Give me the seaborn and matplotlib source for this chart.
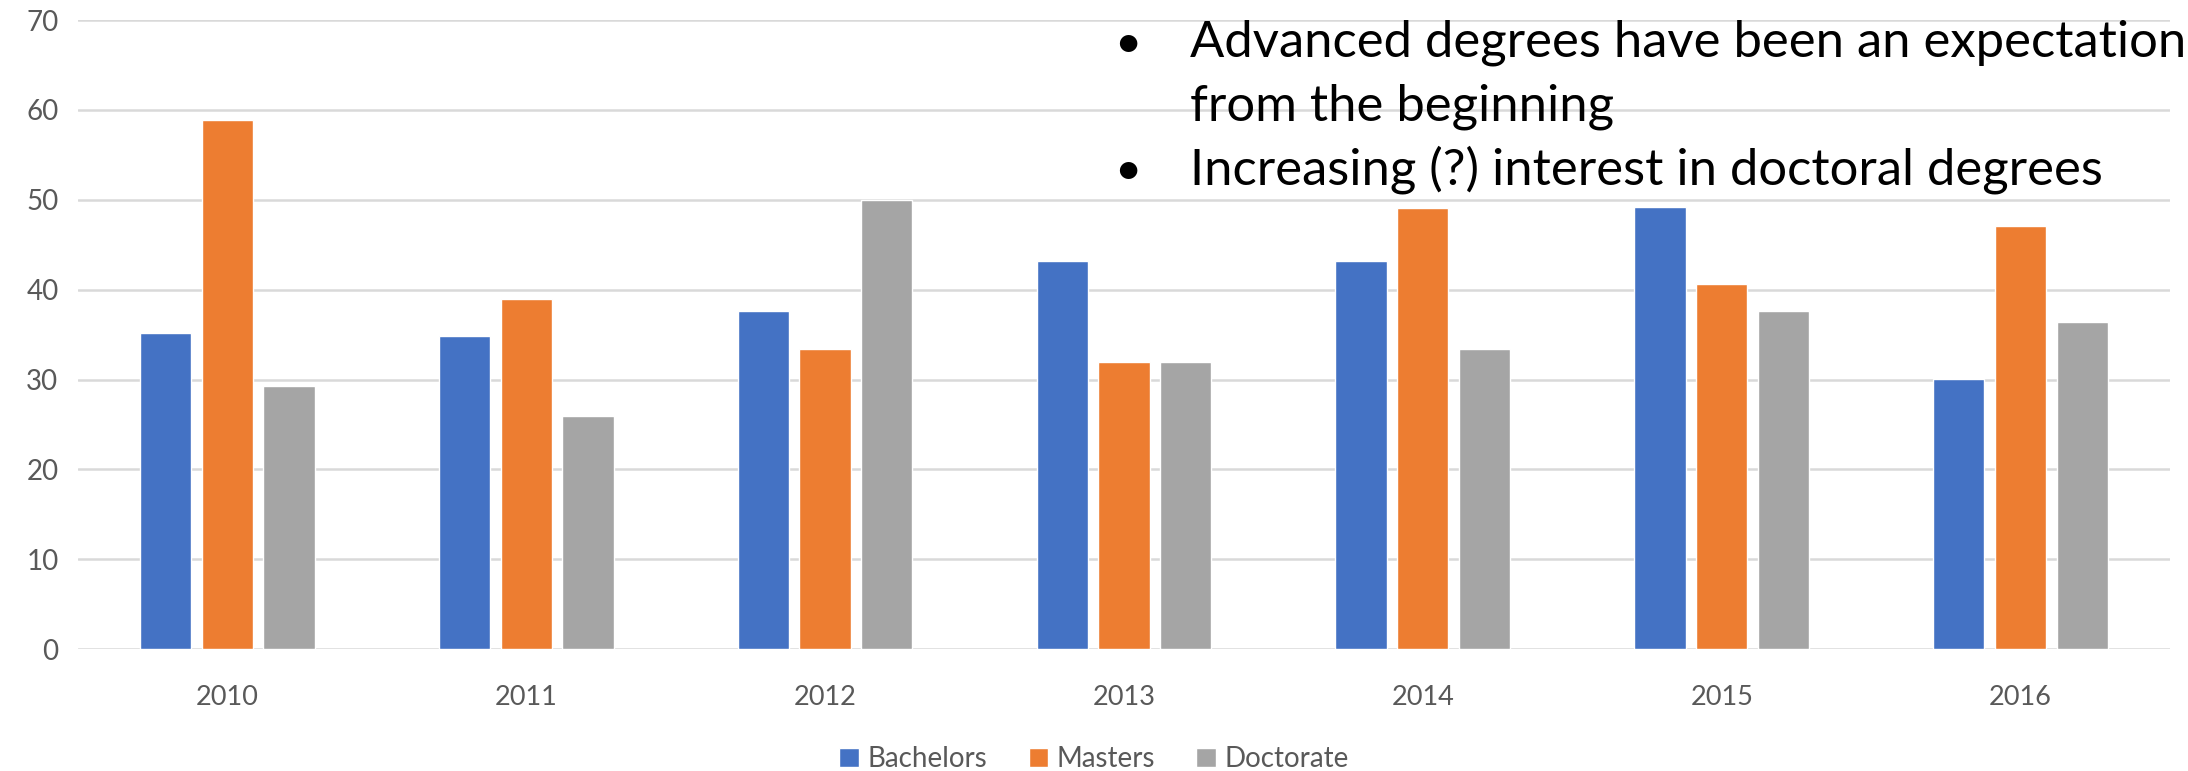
import matplotlib
matplotlib.use("Agg")
import matplotlib.pyplot as plt
import pandas as pd
import seaborn as sns

YEARS = ["2010", "2011", "2012", "2013", "2014", "2015", "2016"]
BACHELORS = [35.2, 34.9, 37.6, 43.2, 43.2, 49.2, 30.1]
MASTERS = [58.9, 39.0, 33.4, 31.9, 49.1, 40.6, 47.1]
DOCTORATE = [29.3, 26.0, 50.0, 31.9, 33.4, 37.6, 36.4]
DEGREES = ["Bachelors", "Masters", "Doctorate"]
COLORS = ["#4472C4", "#ED7D31", "#A5A5A5"]
NOTE_LINES = ["Advanced degrees have been an expectation",
              "from the beginning",
              "Increasing (?) interest in doctoral degrees"]
BULLETED = [True, False, True]

df = pd.DataFrame({"year": YEARS, "Bachelors": BACHELORS,
                   "Masters": MASTERS, "Doctorate": DOCTORATE})
long_df = df.melt(id_vars="year", var_name="degree", value_name="value")

sns.set_style("white")
plt.rcParams["font.family"] = ["Lato", "DejaVu Sans"]

fig = plt.figure(figsize=(21.88, 7.71), dpi=100)
ax = fig.add_axes([0.0356, 0.158, 0.9562, 0.816])

sns.barplot(data=long_df, x="year", y="value", hue="degree", hue_order=DEGREES,
            palette=COLORS, width=0.62, gap=0.17, saturation=1, ax=ax)

ax.set_ylim(0, 70)
ax.set_yticks(range(0, 71, 10))
ax.set_xlim(-0.5, len(YEARS) - 0.5)
ax.yaxis.grid(True, color="#D9D9D9", linewidth=1.8)
ax.set_axisbelow(True)
for s in ax.spines.values():
    s.set_visible(False)
ax.set_xlabel("")
ax.set_ylabel("")
ax.tick_params(axis="x", length=0, pad=26, labelsize=19.5, colors="#595959")
ax.tick_params(axis="y", length=0, pad=14, labelsize=20, colors="#595959")

handles, labels = ax.get_legend_handles_labels()
ax.legend(handles, labels, loc="lower center", bbox_to_anchor=(0.5, -0.034),
          bbox_transform=fig.transFigure, ncol=3, frameon=False,
          handlelength=0.7, handleheight=0.7, handletextpad=0.3,
          columnspacing=1.5, fontsize=20, labelcolor="#595959")

# bullet notes in the top right corner
W, H = 2188, 771
for ytop, line, bullet in zip([57, 120, 184], NOTE_LINES, BULLETED):
    if bullet:
        fig.text(1114 / W, 1 - ytop / H, "\u2022", fontsize=34, color="black",
                 va="baseline", ha="left")
    fig.text(1190 / W, 1 - ytop / H, line, fontsize=36.5, color="black",
             va="baseline", ha="left")

fig.savefig("out.png", dpi=100)
